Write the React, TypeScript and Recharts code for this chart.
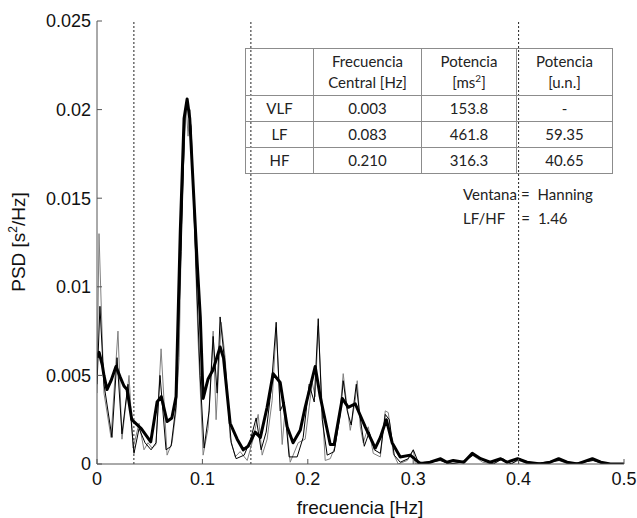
import React from 'react';
import { LineChart, Line, XAxis, YAxis, ReferenceLine, Label } from 'recharts';

// PSD estimada: [frecuencia Hz, s^2/Hz]
const smoothPsd: [number, number][] = [
  [0, 0.006], [0.002, 0.0063], [0.005, 0.0056], [0.0066, 0.005], [0.0095, 0.0042],
  [0.0133, 0.0047], [0.018, 0.0055], [0.022, 0.0049], [0.0256, 0.0044], [0.0285, 0.0042],
  [0.033, 0.0025], [0.042, 0.002], [0.051, 0.00125], [0.057, 0.0035], [0.061, 0.0038],
  [0.0665, 0.0024], [0.071, 0.0026], [0.075, 0.0038], [0.079, 0.0131], [0.0826, 0.0195],
  [0.0855, 0.0206], [0.088, 0.0195], [0.095, 0.0114], [0.098, 0.0083], [0.1007, 0.0037],
  [0.1054, 0.0048], [0.11, 0.0053], [0.1168, 0.0066], [0.12, 0.006], [0.1263, 0.0023],
  [0.133, 0.0014], [0.1387, 0.0008], [0.1434, 0.001], [0.15, 0.0018], [0.155, 0.0015],
  [0.1614, 0.0032], [0.1671, 0.0051], [0.1738, 0.0046], [0.1804, 0.0021], [0.186, 0.0012],
  [0.1928, 0.0019], [0.1975, 0.0032], [0.207, 0.0055], [0.2118, 0.0038], [0.2213, 0.0011],
  [0.225, 0.0011], [0.2327, 0.0037], [0.2384, 0.0032], [0.245, 0.0034], [0.2545, 0.0021],
  [0.264, 0.0009], [0.2688, 0.0015], [0.2745, 0.0025], [0.28, 0.0012], [0.2877, 0.0004],
  [0.2972, 0.0005], [0.303, 0.0002], [0.307, 0], [0.316, 0.0001], [0.326, 0.0003],
  [0.332, 0.0001], [0.338, 0.0002], [0.348, 0.0001], [0.356, 0.0006], [0.364, 0.0003],
  [0.373, 0.0001], [0.383, 0.0003], [0.389, 0.0001], [0.399, 0.0003], [0.408, 0.0001],
  [0.421, 0], [0.43, 0.0001], [0.438, 0.0003], [0.446, 0.0001], [0.456, 0],
  [0.47, 0.0003], [0.478, 0.0001], [0.487, 0], [0.5, 0],
];

const grayPsd: [number, number][] = [
  [0, 0.004], [0.0019, 0.013], [0.0066, 0.004], [0.0133, 0.0015], [0.0199, 0.0075],
  [0.0237, 0.0014], [0.0304, 0.005], [0.0342, 0.0009], [0.0399, 0.0023], [0.0446, 0.0008],
  [0.0484, 0.0012], [0.0522, 0.0009], [0.056, 0.0011], [0.0608, 0.0065], [0.0665, 0.0005],
  [0.0712, 0.0012], [0.075, 0.003], [0.0779, 0.006], [0.0807, 0.015], [0.0845, 0.0203],
  [0.0864, 0.0185], [0.0883, 0.02], [0.0921, 0.014], [0.0959, 0.007], [0.1007, 0.0005],
  [0.1054, 0.002], [0.1102, 0.0075], [0.113, 0.0025], [0.1178, 0.008], [0.1216, 0.006],
  [0.1263, 0.0015], [0.1311, 0.0004], [0.1358, 0.0007], [0.1425, 0.0002], [0.1481, 0.0014],
  [0.1529, 0.0028], [0.1567, 0.0005], [0.1614, 0.0014], [0.1662, 0.0036], [0.17, 0.0077],
  [0.1728, 0.0044], [0.1757, 0.0011], [0.1785, 0.0031], [0.1833, 0.0001], [0.1909, 0.0012],
  [0.1975, 0.0014], [0.2042, 0.0046], [0.207, 0.0038], [0.2099, 0.0078], [0.2137, 0.0031],
  [0.2165, 0.0002], [0.2213, 0.0003], [0.226, 0.001], [0.2308, 0.0031], [0.2336, 0.0051],
  [0.2365, 0.0036], [0.2403, 0.0019], [0.245, 0.0036], [0.2469, 0.0047], [0.2498, 0.0021],
  [0.2526, 0.0012], [0.2574, 0.0021], [0.2621, 0.0006], [0.2688, 0.0004], [0.2735, 0.003],
  [0.2764, 0.0029], [0.2811, 0.0006], [0.2858, 0], [0.2944, 0.0002], [0.3001, 0.0008],
  [0.302, 0], [0.31, 0.0001], [0.325, 0.0002], [0.335, 0], [0.345, 0.0001],
  [0.356, 0.0005], [0.366, 0.0001], [0.375, 0], [0.384, 0.0003], [0.392, 0],
  [0.4, 0.0002], [0.41, 0], [0.42, 0], [0.438, 0.0002], [0.447, 0],
  [0.47, 0.0002], [0.48, 0], [0.5, 0],
];

const thinPsd: [number, number][] = [
  [0, 0.0045], [0.0028, 0.0089], [0.0066, 0.0045], [0.0142, 0.0015], [0.019, 0.006],
  [0.0237, 0.0017], [0.0294, 0.0045], [0.0351, 0.0006], [0.0399, 0.002], [0.0456, 0.0012],
  [0.0513, 0.0008], [0.056, 0.0012], [0.0598, 0.005], [0.0655, 0.0008], [0.0703, 0.001],
  [0.075, 0.0033], [0.0798, 0.012], [0.0836, 0.02], [0.0855, 0.0204], [0.0893, 0.019],
  [0.094, 0.011], [0.0978, 0.005], [0.1016, 0.0009], [0.1064, 0.003], [0.1102, 0.0072],
  [0.114, 0.004], [0.1168, 0.0083], [0.1216, 0.0055], [0.1273, 0.0012], [0.132, 0.0003],
  [0.1396, 0.0005], [0.1453, 0.0013], [0.151, 0.0026], [0.1557, 0.0008], [0.1605, 0.0018],
  [0.1652, 0.0042], [0.17, 0.008], [0.1738, 0.003], [0.1776, 0.0035], [0.1823, 0.0004],
  [0.1899, 0.0004], [0.1956, 0.0015], [0.2013, 0.0045], [0.2061, 0.0035], [0.2099, 0.0082],
  [0.2137, 0.0025], [0.2184, 0.0005], [0.225, 0.0007], [0.2308, 0.0028], [0.2336, 0.0047],
  [0.2374, 0.003], [0.2412, 0.0022], [0.246, 0.0045], [0.2488, 0.003], [0.2536, 0.001],
  [0.2583, 0.0018], [0.2631, 0.0008], [0.2688, 0.0006], [0.2735, 0.0028], [0.2773, 0.0025],
  [0.282, 0.0005], [0.2877, 0.0001], [0.2953, 0.0003], [0.3001, 0.0008], [0.3048, 0.0001],
  [0.315, 0.0001], [0.326, 0.0002], [0.334, 0], [0.347, 0.0001], [0.357, 0.0005],
  [0.367, 0.0002], [0.376, 0], [0.385, 0.0003], [0.393, 0], [0.401, 0.0003],
  [0.412, 0], [0.425, 0.0001], [0.439, 0.0002], [0.45, 0], [0.471, 0.0002],
  [0.482, 0], [0.5, 0],
];

const xTicks = [0, 0.1, 0.2, 0.3, 0.4, 0.5];
const yTicks = [0, 0.005, 0.01, 0.015, 0.02, 0.025];
const bandLimits = [0.035, 0.146, 0.4];

const bands = ['VLF', 'LF', 'HF'];
const centralFreq = ['0.003', '0.083', '0.210'];
const powerMs = ['153.8', '461.8', '316.3'];
const powerNu = ['-', '59.35', '40.65'];

const toRows = (pts: [number, number][]) => pts.map(([f, psd]) => ({ f, psd }));

const tickFont = { fontFamily: 'Liberation Sans, Arial, sans-serif', fontSize: 18, fill: '#111' };
const axisColor = '#555';
const colW = [67, 107, 94, 95];
const cellBorder = '1.5px solid #8c8c8c';

const App = () => {
  const cell = (w: number, h: number): React.CSSProperties => ({
    width: w, height: h, border: cellBorder, padding: 0, textAlign: 'center', verticalAlign: 'middle',
  });

  return (
    <div style={{ position: 'absolute', left: 0, top: 0, width: 637, height: 518, background: '#fff' }}>
      <LineChart width={637} height={518} margin={{ top: 21, right: 13, bottom: 0, left: 0 }}>
        <XAxis type="number" dataKey="f" domain={[0, 0.5]} ticks={xTicks} allowDataOverflow
          height={54} tickSize={-5} tickMargin={13} tick={tickFont}
          stroke={axisColor} tickLine={{ stroke: axisColor }}>
          <Label content={() => (
            <text x={360} y={514} textAnchor="middle" style={{ fontFamily: 'Liberation Sans, Arial, sans-serif', fontSize: 19, fill: '#111' }}>
              frecuencia [Hz]
            </text>
          )} />
        </XAxis>
        <XAxis xAxisId="top" orientation="top" type="number" dataKey="f" domain={[0, 0.5]} ticks={xTicks}
          height={0} mirror tickSize={5} tickFormatter={() => ''} stroke={axisColor} />
        <YAxis type="number" domain={[0, 0.025]} ticks={yTicks} allowDataOverflow width={97}
          tickSize={-5} tickMargin={11} tick={tickFont} stroke={axisColor}
          tickFormatter={(v: number) => String(v)}>
          <Label content={() => (
            <text x={25} y={242} transform="rotate(-90 25 242)" textAnchor="middle"
              style={{ fontFamily: 'Liberation Sans, Arial, sans-serif', fontSize: 19, fill: '#111' }}>
              PSD [s<tspan dy={-8} fontSize={12}>2</tspan><tspan dy={8}>/Hz]</tspan>
            </text>
          )} />
        </YAxis>
        <YAxis yAxisId="right" orientation="right" type="number" domain={[0, 0.025]} ticks={yTicks}
          width={0} mirror tickSize={5} tickFormatter={() => ''} stroke={axisColor} />
        {bandLimits.map((b) => (
          <ReferenceLine key={b} x={b} stroke="#222" strokeWidth={1} strokeDasharray="2 2" />
        ))}
        <Line data={toRows(grayPsd)} dataKey="psd" type="linear" stroke="#808080" strokeWidth={1}
          dot={false} isAnimationActive={false} />
        <Line data={toRows(thinPsd)} dataKey="psd" type="linear" stroke="#000" strokeWidth={1}
          dot={false} isAnimationActive={false} />
        <Line data={toRows(smoothPsd)} dataKey="psd" type="linear" stroke="#000" strokeWidth={3}
          strokeLinejoin="round" dot={false} isAnimationActive={false} />
      </LineChart>

      <table style={{
        position: 'absolute', left: 245, top: 48, borderCollapse: 'collapse', tableLayout: 'fixed',
        fontFamily: 'Lato, sans-serif', fontSize: 15, color: '#222', lineHeight: '21px',
      }}>
        <tbody>
          <tr>
            <td style={cell(colW[0], 46)}></td>
            <td style={cell(colW[1], 46)}>Frecuencia<br />Central [Hz]</td>
            <td style={cell(colW[2], 46)}>Potencia<br />[ms<sup style={{ fontSize: 10, lineHeight: 0 }}>2</sup>]</td>
            <td style={cell(colW[3], 46)}>Potencia<br />[u.n.]</td>
          </tr>
          {bands.map((b, i) => (
            <tr key={b}>
              <td style={cell(colW[0], 25)}>{b}</td>
              <td style={cell(colW[1], 25)}>{centralFreq[i]}</td>
              <td style={cell(colW[2], 25)}>{powerMs[i]}</td>
              <td style={cell(colW[3], 25)}>{powerNu[i]}</td>
            </tr>
          ))}
        </tbody>
      </table>

      <div style={{ position: 'absolute', left: 463, top: 182, fontFamily: 'Lato, sans-serif', fontSize: 15, color: '#222', lineHeight: '24px' }}>
        <div>Ventana<span style={{ marginLeft: 4 }}>=</span><span style={{ marginLeft: 8 }}>Hanning</span></div>
        <div>LF/HF<span style={{ marginLeft: 16 }}>=</span><span style={{ marginLeft: 8 }}>1.46</span></div>
      </div>
    </div>
  );
};

export default App;
